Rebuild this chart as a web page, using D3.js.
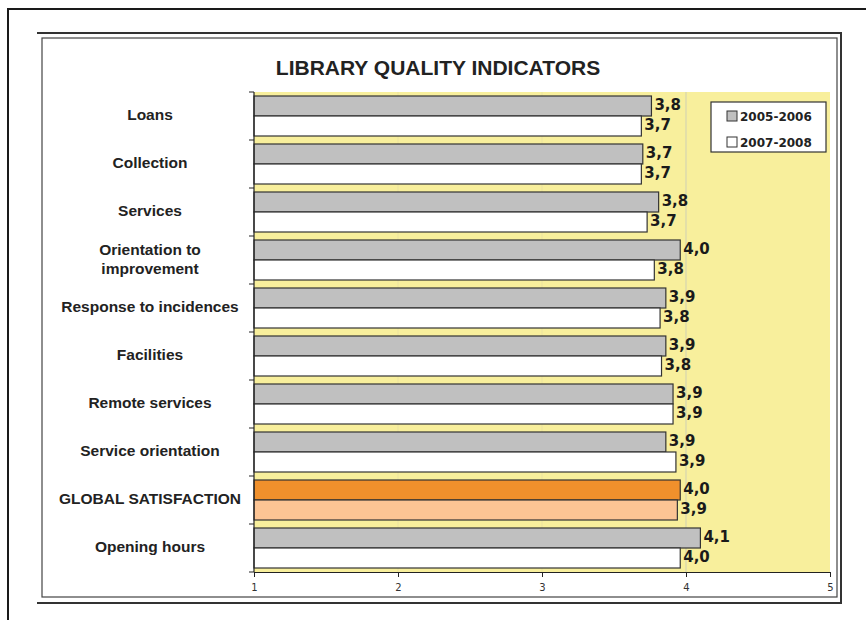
<!DOCTYPE html>
<html>
<head>
<meta charset="utf-8">
<script src="https://cdn.jsdelivr.net/npm/d3@7"></script>
<style>
  body { margin: 0; background: #fff; }
  svg { display: block; }
</style>
</head>
<body>
<div id="chart"></div>
<script>
/************************
 *  Data
 ************************/
const categories = [
  "Loans",
  "Collection",
  "Services",
  "Orientation to improvement",
  "Response to incidences",
  "Facilities",
  "Remote services",
  "Service orientation",
  "GLOBAL SATISFACTION",
  "Opening hours"
];
const seriesNames = ["2005-2006", "2007-2008"];
const values2005 = [3.76, 3.70, 3.81, 3.96, 3.86, 3.86, 3.91, 3.86, 3.96, 4.10];
const values2007 = [3.69, 3.69, 3.73, 3.78, 3.82, 3.83, 3.91, 3.93, 3.94, 3.96];
const xTicks = [1, 2, 3, 4, 5];
const highlight = "GLOBAL SATISFACTION";

/************************
 *  Config
 ************************/
const width = 866;
const height = 620;
const plot = { left: 254, right: 830, top: 92, bottom: 572 };
const colors = { a: "#c0c0c0", b: "#ffffff", hiA: "#f0902c", hiB: "#fcc494", bg: "#f8ef9c" };

const svg = d3.select("#chart")
  .append("svg")
  .attr("width", width)
  .attr("height", height);

// page frames
svg.append("path")
  .attr("d", "M8,620 V9 H866")
  .attr("fill", "none").attr("stroke", "#1a1a1a").attr("stroke-width", 2);
svg.append("path")
  .attr("d", "M37,33 H841 V603 H37")
  .attr("fill", "none").attr("stroke", "#333").attr("stroke-width", 2);
svg.append("rect")
  .attr("x", 42).attr("y", 38).attr("width", 795).attr("height", 559)
  .attr("fill", "#fff").attr("stroke", "#444").attr("stroke-width", 1.2);

// title
svg.append("text")
  .attr("x", 438).attr("y", 75)
  .attr("text-anchor", "middle")
  .style("font-family", "'Liberation Sans', Arial, sans-serif")
  .style("font-weight", "bold")
  .style("font-size", "21px")
  .style("fill", "#222")
  .text("LIBRARY QUALITY INDICATORS");

/************************
 *  Scales
 ************************/
const x = d3.scaleLinear().domain([1, 5]).range([plot.left, plot.right]);
const y = d3.scaleBand().domain(categories).range([plot.top, plot.bottom])
  .paddingInner(8 / 48).paddingOuter(4 / 48);
const ySub = d3.scaleBand().domain([0, 1]).range([0, y.bandwidth()]);

// background
svg.append("rect")
  .attr("x", plot.left).attr("y", plot.top)
  .attr("width", x(5) - plot.left).attr("height", plot.bottom - plot.top)
  .attr("fill", colors.bg);

// grid lines
svg.append("g")
  .selectAll("line")
  .data(xTicks.slice(1, -1))
  .join("line")
  .attr("x1", d => x(d)).attr("x2", d => x(d))
  .attr("y1", plot.top).attr("y2", plot.bottom)
  .attr("stroke", d => d === 4 ? "#cfcfb4" : "#ece3a0")
  .attr("stroke-width", 1);

/************************
 *  Bars
 ************************/
const rows = categories.map((c, i) => ({ cat: c, vals: [values2005[i], values2007[i]] }));
const fmt = v => d3.format(".1f")(v).replace(".", ",");

const groups = svg.append("g")
  .selectAll("g")
  .data(rows)
  .join("g")
  .attr("transform", d => `translate(0,${y(d.cat)})`);

groups.selectAll("rect")
  .data(d => d.vals.map((v, k) => ({ v, k, cat: d.cat })))
  .join("rect")
  .attr("x", x(1))
  .attr("y", d => ySub(d.k))
  .attr("width", d => x(d.v) - x(1))
  .attr("height", ySub.bandwidth())
  .attr("fill", d => d.cat === highlight ? (d.k ? colors.hiB : colors.hiA) : (d.k ? colors.b : colors.a))
  .attr("stroke", "#333")
  .attr("stroke-width", 1.2);

groups.selectAll("text")
  .data(d => d.vals.map((v, k) => ({ v, k })))
  .join("text")
  .attr("x", d => x(d.v) + 3)
  .attr("y", d => ySub(d.k) + ySub.bandwidth() / 2 + 4)
  .style("font-family", "'DejaVu Sans', Verdana, sans-serif")
  .style("font-weight", "bold")
  .style("font-size", "15px")
  .style("fill", "#1a1a1a")
  .text(d => fmt(d.v));

/************************
 *  Axes
 ************************/
const xAxis = svg.append("g")
  .attr("transform", `translate(0,${plot.bottom})`)
  .call(d3.axisBottom(x).tickValues(xTicks).tickSize(5).tickSizeOuter(0).tickFormat(d3.format("d")));
xAxis.select(".domain").attr("stroke", "#222").attr("stroke-width", 1.2);
xAxis.selectAll(".tick line").attr("stroke", "#222");
xAxis.selectAll("text")
  .attr("dy", "1.1em")
  .style("font-family", "'DejaVu Sans', Verdana, sans-serif")
  .style("font-size", "10px")
  .style("fill", "#333");

// left axis line with boundary ticks
const boundaries = categories.map(c => y(c) - y.step() * y.paddingInner() / 2);
boundaries.push(plot.bottom);
svg.append("line")
  .attr("x1", plot.left).attr("x2", plot.left)
  .attr("y1", plot.top).attr("y2", plot.bottom)
  .attr("stroke", "#222").attr("stroke-width", 1.2);
svg.append("g")
  .selectAll("line")
  .data(boundaries)
  .join("line")
  .attr("x1", plot.left - 5).attr("x2", plot.left)
  .attr("y1", d => d).attr("y2", d => d)
  .attr("stroke", "#222");

// category labels
const catLabels = svg.append("g")
  .selectAll("text")
  .data(categories)
  .join("text")
  .attr("x", 150)
  .attr("y", d => y(d) + y.bandwidth() / 2 - 1)
  .attr("text-anchor", "middle")
  .style("font-family", "'Liberation Sans', Arial, sans-serif")
  .style("font-weight", "bold")
  .style("font-size", "15.5px")
  .style("fill", "#222");

catLabels.each(function(d) {
  const t = d3.select(this);
  const lines = d === "Orientation to improvement" ? ["Orientation to", "improvement"] : [d];
  lines.forEach((ln, i) => {
    t.append("tspan")
      .attr("x", 150)
      .attr("dy", i === 0 ? `${0.35 - (lines.length - 1) * 0.6}em` : "1.2em")
      .text(ln);
  });
});

/************************
 *  Legend
 ************************/
const legend = svg.append("g").attr("transform", "translate(711,102)");
legend.append("rect")
  .attr("width", 115).attr("height", 50)
  .attr("fill", "#fff").attr("stroke", "#333").attr("stroke-width", 1.2);
legend.selectAll("g")
  .data(seriesNames)
  .join("g")
  .attr("transform", (d, i) => `translate(16,${9 + i * 26})`)
  .each(function(d, i) {
    const g = d3.select(this);
    g.append("rect")
      .attr("width", 10).attr("height", 10)
      .attr("fill", i ? colors.b : colors.a)
      .attr("stroke", "#333");
    g.append("text")
      .attr("x", 13).attr("y", 10)
      .style("font-family", "'DejaVu Sans', Verdana, sans-serif")
      .style("font-weight", "bold")
      .style("font-size", "12px")
      .style("fill", "#222")
      .text(d);
  });
</script>
</body>
</html>
